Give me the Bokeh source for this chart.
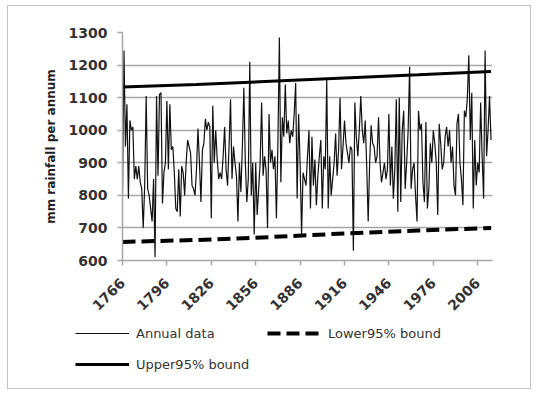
from bokeh.plotting import figure
from bokeh.layouts import column
from bokeh.models import Range1d, FixedTicker, Legend, LegendItem
from bokeh.embed import file_html
from bokeh.resources import INLINE

# ---- data ----
years = list(range(1766, 2016))
rainfall = [
    800, 1245, 950, 1080, 790, 1030, 1000, 1010, 850, 890,     # 1766
    850, 890, 840, 820, 700, 830, 1105, 820, 800, 760,         # 1776
    720, 850, 610, 1105, 860, 1110, 1115, 775, 870, 900,       # 1786
    1090, 880, 1080, 940, 950, 870, 760, 750, 880, 735,        # 1796
    890, 870, 800, 900, 970, 950, 930, 830, 820, 800,          # 1806
    880, 1005, 900, 780, 940, 960, 1035, 1000, 1025, 1010,     # 1816
    730, 1075, 900, 1000, 910, 850, 870, 850, 920, 1010,       # 1826
    880, 830, 950, 1095, 850, 950, 900, 860, 720, 900,         # 1836
    810, 950, 1130, 900, 780, 850, 1210, 800, 900, 680,        # 1846
    900, 740, 820, 900, 1085, 860, 920, 880, 700, 1050,        # 1856
    900, 940, 880, 920, 730, 960, 1285, 840, 1040, 980,        # 1866
    1140, 990, 1030, 960, 1000, 980, 1050, 1145, 790, 1050,    # 1876
    900, 680, 870, 850, 830, 920, 1000, 760, 980, 830,         # 1886
    910, 770, 860, 920, 970, 760, 920, 880, 1155, 760,         # 1896
    920, 800, 850, 900, 990, 860, 940, 1100, 880, 950,         # 1906
    1030, 960, 930, 900, 950, 940, 630, 1085, 980, 920,        # 1916
    1000, 1105, 1000, 960, 1030, 890, 720, 900, 1015, 960,     # 1926
    950, 900, 920, 1040, 900, 840, 870, 900, 850, 880,         # 1936
    1050, 830, 950, 790, 880, 1095, 750, 1100, 780, 1000,      # 1946
    1060, 820, 900, 1000, 1195, 820, 880, 900, 800, 720,       # 1956
    1060, 1000, 1020, 840, 780, 1025, 760, 820, 960, 900,      # 1966
    1000, 960, 900, 740, 1020, 960, 880, 900, 980, 1010,       # 1976
    950, 1000, 900, 950, 830, 800, 1020, 1050, 900, 850,       # 1986
    770, 1060, 1040, 1100, 1230, 970, 1115, 760, 970, 830,     # 1996
    900, 870, 1085, 920, 790, 1245, 920, 1000, 1105, 970,      # 2006
]
bound_years = [1766, 1816, 1866, 1916, 1966, 2015]
upper_bound = [1133, 1140, 1150, 1160, 1170, 1180]
lower_bound = [657, 663, 672, 683, 692, 700]

x_ticks = [1766, 1796, 1826, 1856, 1886, 1916, 1946, 1976, 2006]
y_ticks = [600, 700, 800, 900, 1000, 1100, 1200, 1300]
series_labels = ["Annual data", "Lower95% bound", "Upper95% bound"]
y_title = "mm rainfall per annum"

FONT = "DejaVu Sans"
GRID = "#a6a6a6"
TXT = "#333333"

W = 522          # inner width (inside the thin grey frame)
MAIN_H = 312     # chart part
LEG_H = 70       # legend part

p = figure(width=W, height=MAIN_H, output_backend="svg", toolbar_location=None,
           x_range=Range1d(1766, 2016), y_range=Range1d(600, 1300),
           min_border_left=114, min_border_right=38,
           min_border_top=26, min_border_bottom=MAIN_H - 26 - 229,
           background_fill_color="white", border_fill_color="white")
p.outline_line_color = None

p.xgrid.grid_line_color = None
p.ygrid.grid_line_color = GRID
p.ygrid.grid_line_width = 1.5

xax = p.xaxis[0]
yax = p.yaxis[0]
xax.ticker = FixedTicker(ticks=x_ticks)
yax.ticker = FixedTicker(ticks=y_ticks)

for ax in (xax, yax):
    ax.axis_line_color = GRID
    ax.axis_line_width = 1.5
    ax.major_tick_line_color = GRID
    ax.major_tick_line_width = 1.5
    ax.major_tick_in = 0
    ax.major_tick_out = 5
    ax.minor_tick_line_color = None
    ax.major_label_text_font = FONT
    ax.major_label_text_font_size = "14px"
    ax.major_label_text_font_style = "bold"
    ax.major_label_text_color = TXT

xax.major_label_orientation = 0.785398
yax.major_label_standoff = 10
xax.major_label_standoff = 15
yax.axis_label = y_title
yax.axis_label_text_font = FONT
yax.axis_label_text_font_size = "12px"
yax.axis_label_text_font_style = "bold"
yax.axis_label_text_color = "#222222"
yax.axis_label_standoff = 8

p.line(years, rainfall, line_color="#111111", line_width=1.2)
p.line(bound_years, lower_bound, line_color="black", line_width=4, line_dash="13 6")
p.line(bound_years, upper_bound, line_color="black", line_width=3)

# ---- legend strip under the chart (its frame is aligned with the chart's,
#      so it is shifted left with a negative margin; transparent background
#      so the thin grey frame stays visible) ----
q = figure(width=W, height=LEG_H, output_backend="svg", toolbar_location=None,
           x_range=Range1d(0, 1), y_range=Range1d(0, 1),
           min_border=0, background_fill_color=None, border_fill_color=None,
           styles={"margin-left": "-47px"})
q.outline_line_color = None
q.axis.visible = False
q.grid.visible = False

nan = float("nan")
l_annual = q.line(x=[nan], y=[nan], line_color="#111111", line_width=1.2)
l_lower = q.line(x=[nan], y=[nan], line_color="black", line_width=4, line_dash="13 6")
l_upper = q.line(x=[nan], y=[nan], line_color="black", line_width=3)

legend = Legend(
    items=[LegendItem(label=series_labels[0], renderers=[l_annual]),
           LegendItem(label=series_labels[1], renderers=[l_lower]),
           LegendItem(label=series_labels[2], renderers=[l_upper])],
    orientation="horizontal", ncols=2, location=(0, 16),
    border_line_color=None, background_fill_alpha=0, padding=0, margin=0,
    spacing=15, glyph_width=54, glyph_height=16, label_height=16,
    label_width=116, label_standoff=7,
    label_text_font=FONT, label_text_font_size="13px", label_text_color=TXT)
q.add_layout(legend)

layout = column(p, q, spacing=0,
                styles={"margin-left": "7px", "margin-top": "5px",
                        "border": "1px solid #c4c4c4", "background": "white"})

open("out.html", "w").write(file_html(layout, INLINE))
